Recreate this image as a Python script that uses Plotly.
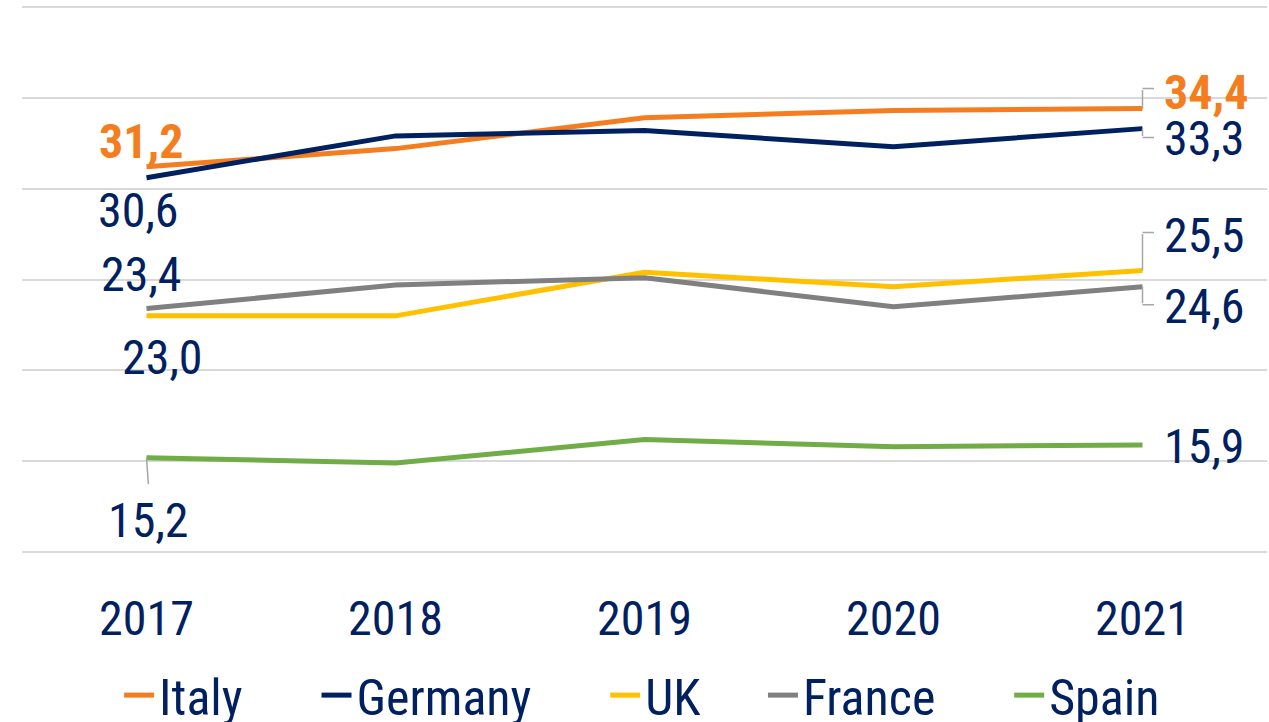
import plotly.graph_objects as go

years = ["2017", "2018", "2019", "2020", "2021"]
italy = [31.2, 32.2, 33.9, 34.3, 34.4]
germany = [30.6, 32.9, 33.2, 32.3, 33.3]
uk = [23.0, 23.0, 25.4, 24.6, 25.5]
france = [23.4, 24.7, 25.1, 23.5, 24.6]
spain = [15.2, 14.9, 16.2, 15.8, 15.9]

NB = "&nbsp;"
series = [
    ("Italy", italy, "#F47D20", 6),
    ("Germany", germany, "#002060", 6),
    ("UK", uk, "#FFC000", 5),
    ("France", france, "#808080", 6),
    ("Spain", spain, "#70AD47", 0),
]

FONT = "Roboto Condensed, Liberation Sans Narrow, sans-serif"
TXT = "#002060"
FS = 48
LEADER = "#A6A6A6"

fig = go.Figure()
for name, vals, col, pad in series:
    fig.add_trace(go.Scatter(x=years, y=vals, name=name + NB * pad, mode="lines",
                             line=dict(color=col, width=5), hoverinfo="skip"))

def fmt(v):
    return f"{v:.1f}".replace(".", ",")

# data labels: (values, category index, xshift, yshift, xanchor, bold, colour)
labels = [
    (italy, 0, -5, 25, "center", True, "#F47D20"),
    (germany, 0, -8, -33, "center", False, TXT),
    (france, 0, -5, 34, "center", False, TXT),
    (uk, 0, 16, -42, "center", False, TXT),
    (spain, 0, 2, -63, "center", False, TXT),
    (italy, 4, 19, 16, "left", True, "#F47D20"),
    (germany, 4, 19, -10, "left", False, TXT),
    (uk, 4, 19, 35, "left", False, TXT),
    (france, 4, 19, -20, "left", False, TXT),
    (spain, 4, 19, -2, "left", False, TXT),
]
for vals, i, xs, ys, xa, bold, col in labels:
    t = fmt(vals[i])
    if bold:
        t = "<b>" + t + "</b>"
    fig.add_annotation(x=i, y=vals[i], xref="x", yref="y", text=t, showarrow=False,
                       xanchor=xa, yanchor="middle", xshift=xs, yshift=ys,
                       font=dict(family=FONT, size=FS, color=col))

# leader lines: (values, category index, vertical px (up +), horizontal px)
leaders = [
    (italy, 4, 20, 13),
    (germany, 4, -9, 13),
    (uk, 4, 38, 13),
    (france, 4, -18, 13),
]
for vals, i, dv, dh in leaders:
    fig.add_annotation(x=i, y=vals[i], xref="x", yref="y", text="", showarrow=True,
                       arrowhead=0, arrowwidth=1.5, arrowcolor=LEADER, ax=0, ay=-dv)
    fig.add_annotation(x=i, y=vals[i], xref="x", yref="y", text="", showarrow=True,
                       arrowhead=0, arrowwidth=1.5, arrowcolor=LEADER, ax=dh, ay=0, yshift=dv)
fig.add_annotation(x=0, y=spain[0], xref="x", yref="y", text="", showarrow=True,
                   arrowhead=0, arrowwidth=1.5, arrowcolor=LEADER, ax=2, ay=28)

fig.update_layout(
    width=1269, height=722,
    margin=dict(l=22, r=2, t=5.2, b=168.2, autoexpand=False),
    plot_bgcolor="white", paper_bgcolor="white",
    font=dict(family=FONT, size=FS, color=TXT),
    showlegend=True,
    legend=dict(orientation="h", x=0.078, xanchor="left", y=-0.186, yanchor="top",
                font=dict(family=FONT, size=50, color=TXT), itemwidth=30,
                traceorder="normal"),
    xaxis=dict(type="category", range=[-0.5, 4.5], showgrid=False, zeroline=False,
               showline=False, ticks="", ticklabelstandoff=32,
               tickfont=dict(family=FONT, size=FS, color=TXT)),
    yaxis=dict(range=[9.9, 40.1], dtick=5, showgrid=True, gridcolor="#D9D9D9", gridwidth=2,
               zeroline=False, showline=False, showticklabels=False, ticks=""),
)

fig.write_html("out.html", config={"displayModeBar": False},
               post_script="document.body.style.margin='0';")
